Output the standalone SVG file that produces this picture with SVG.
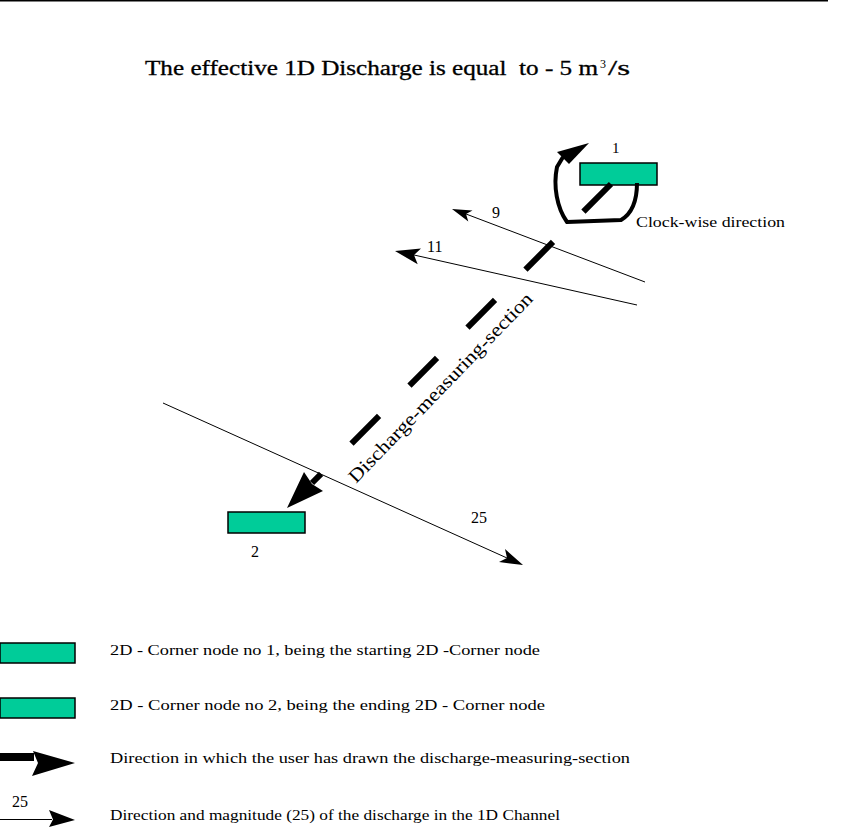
<svg xmlns="http://www.w3.org/2000/svg" width="864" height="830" viewBox="0 0 864 830">
<style>
.t{font-family:"Liberation Serif","Times New Roman",serif;fill:#000;white-space:pre}
.node{fill:#00cc99;stroke:#000;stroke-width:1.5}
.thin{stroke:#000;stroke-width:1;fill:none}
.head{fill:#000;stroke:none}
</style>
<rect x="0" y="0" width="864" height="830" fill="#fff"/>
<line x1="0" y1="0.8" x2="828" y2="0.8" stroke="#000" stroke-width="1.6"/>
<g id="title">
<text class="t" x="145" y="75" font-size="20" textLength="453" lengthAdjust="spacingAndGlyphs" xml:space="preserve" stroke="#000" stroke-width="0.3">The effective 1D Discharge is equal  to - 5 m</text>
<text class="t" x="600" y="68" font-size="12">3</text>
<text class="t" x="608" y="75" font-size="20" textLength="22" lengthAdjust="spacingAndGlyphs" stroke="#000" stroke-width="0.3">/s</text>
</g>
<g id="node1">
<rect class="node" x="580" y="163" width="77" height="22"/>
<text class="t" x="612" y="153" font-size="15">1</text>
</g>
<g id="node2">
<rect class="node" x="228" y="512" width="77" height="21"/>
<text class="t" x="251" y="557" font-size="16">2</text>
</g>
<g id="connectors">
<path d="M637,183 C637,200 633,213 621,220 L567,222 C557,208 553,186 557,167 L563,157" fill="none" stroke="#000" stroke-width="4" stroke-linejoin="round"/>
<polygon class="head" points="589,143 557,152 569,164"/>
<line x1="611" y1="184" x2="312" y2="483" stroke="#000" stroke-width="6" stroke-dasharray="39 43"/>
<polygon class="head" points="287,508 304,472 312,484 323,491"/>
<line class="thin" x1="645" y1="282" x2="466" y2="214"/>
<polygon class="head" points="452,209 472.5,210.4 466,214 468.3,221.6"/>
<line class="thin" x1="637" y1="305" x2="414" y2="255"/>
<polygon class="head" points="395,251 421,248.6 414,255 417.7,264.2"/>
<line class="thin" x1="163" y1="403" x2="507" y2="558"/>
<polygon class="head" points="523,565 499,562 507,558 505,549"/>
</g>
<g id="labels">
<text class="t" x="492" y="218" font-size="16">9</text>
<text class="t" x="427" y="252" font-size="16">11</text>
<text class="t" x="471" y="523" font-size="16">25</text>
<text class="t" x="636" y="227" font-size="15" textLength="149" lengthAdjust="spacingAndGlyphs">Clock-wise direction</text>
<text class="t" font-size="19" transform="translate(356,484) rotate(-46)" textLength="256" lengthAdjust="spacingAndGlyphs">Discharge-measuring-section</text>
</g>
<g id="legend">
<g id="legend-node1">
<rect class="node" x="0" y="643" width="75" height="20"/>
<text class="t" x="110" y="655" font-size="14" textLength="430" lengthAdjust="spacingAndGlyphs">2D - Corner node no 1, being the starting 2D -Corner node</text>
</g>
<g id="legend-node2">
<rect class="node" x="0" y="698" width="75" height="20"/>
<text class="t" x="110" y="710" font-size="14" textLength="435" lengthAdjust="spacingAndGlyphs">2D - Corner node no 2, being the ending 2D - Corner node</text>
</g>
<g id="legend-section">
<rect x="0" y="753" width="34" height="8" fill="#000"/>
<polygon class="head" points="33,751 75,763 32,776 38,763"/>
<text class="t" x="110" y="763" font-size="14" textLength="520" lengthAdjust="spacingAndGlyphs">Direction in which the user has drawn the discharge-measuring-section</text>
</g>
<g id="legend-discharge">
<text class="t" x="12" y="807" font-size="16">25</text>
<line class="thin" x1="0" y1="819.5" x2="52" y2="819.5"/>
<polygon class="head" points="49,810 75,820 49,827 53,819.5"/>
<text class="t" x="110" y="820" font-size="14" textLength="450" lengthAdjust="spacingAndGlyphs">Direction and magnitude (25) of the discharge in the 1D Channel</text>
</g>
</g>
</svg>
